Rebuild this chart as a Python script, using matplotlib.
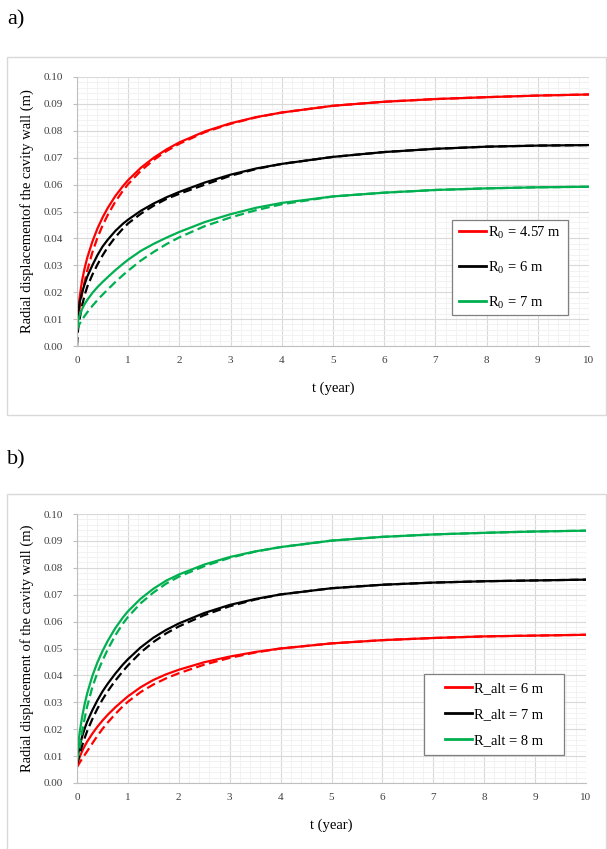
import numpy as np
import matplotlib
matplotlib.use("Agg")
import matplotlib.pyplot as plt
from matplotlib.patches import Rectangle
from matplotlib.ticker import MultipleLocator, FormatStrFormatter

plt.rcParams['font.family'] = ['Liberation Serif', 'DejaVu Serif']
plt.rcParams['mathtext.fontset'] = 'custom'
plt.rcParams['mathtext.rm'] = 'Liberation Serif'

# tiempos (años)
t = [0, 0.02, 0.05, 0.1, 0.15, 0.2, 0.3, 0.4, 0.5, 0.6, 0.75, 0.9, 1, 1.25, 1.5, 1.75, 2, 2.5,
     3, 3.5, 4, 5, 6, 7, 8, 9, 10]

# Panel a) - distintos R0
a_red = [0.008, 0.013, 0.018, 0.0245, 0.029, 0.0328, 0.0388, 0.0437, 0.0478, 0.0513, 0.0558,
         0.0595, 0.0617, 0.0663, 0.070, 0.0731, 0.0757, 0.0798, 0.0828, 0.0851, 0.0868, 0.0893,
         0.0908, 0.0918, 0.0925, 0.0931, 0.0935]
a_red_d = [0.008, 0.010, 0.014, 0.0195, 0.024, 0.028, 0.0348, 0.0403, 0.0448, 0.0487, 0.0537,
           0.0578, 0.0602, 0.0652, 0.0692, 0.0725, 0.0752, 0.0795, 0.0826, 0.085, 0.0868,
           0.0893, 0.0908, 0.0918, 0.0925, 0.0931, 0.0935]
a_blk = [0.009, 0.012, 0.016, 0.020, 0.023, 0.0258, 0.030, 0.0338, 0.037, 0.0395, 0.0428, 0.0455,
         0.047, 0.0503, 0.0530, 0.0553, 0.0573, 0.0608, 0.0637, 0.066, 0.0677, 0.0703, 0.0721,
         0.0733, 0.0741, 0.0745, 0.0747]
a_blk_d = [0.0, 0.006, 0.010, 0.015, 0.019, 0.022, 0.0265, 0.0303, 0.0337, 0.0367, 0.0405,
           0.0437, 0.0456, 0.0492, 0.0522, 0.0547, 0.0566, 0.060, 0.0633, 0.0658, 0.0677,
           0.0703, 0.0721, 0.0733, 0.0741, 0.0745, 0.0747]
a_grn = [0.007, 0.0093, 0.0113, 0.0138, 0.0156, 0.0171, 0.0197, 0.0219, 0.0238, 0.0256, 0.0282,
         0.0306, 0.0321, 0.0354, 0.038, 0.0403, 0.0424, 0.0461, 0.049, 0.0514, 0.0532, 0.0556,
         0.057, 0.058, 0.0586, 0.059, 0.0592]
a_grn_d = [0.006, 0.007, 0.0082, 0.0098, 0.0112, 0.0125, 0.0149, 0.0171, 0.0191, 0.021, 0.0238,
           0.0264, 0.028, 0.0318, 0.035, 0.0379, 0.0404, 0.0446, 0.0478, 0.0505, 0.0527,
           0.0556, 0.057, 0.058, 0.0586, 0.059, 0.0592]
a_labels = [r"R$_0$ = 4.57 m", r"R$_0$ = 6 m", r"R$_0$ = 7 m"]

# Panel b) - distintos R_alt
b_red = [0.0065, 0.0078, 0.0095, 0.0118, 0.0137, 0.0154, 0.0183, 0.0209, 0.0232, 0.0253,
         0.0281, 0.0306, 0.0322, 0.0356, 0.0383, 0.0404, 0.0421, 0.0449, 0.047, 0.0487, 0.050,
         0.0519, 0.0531, 0.0539, 0.0545, 0.0548, 0.0551]
b_red_d = [0.006, 0.0065, 0.0075, 0.009, 0.0104, 0.0118, 0.0147, 0.0175, 0.0201, 0.0224, 0.0256,
           0.0285, 0.0302, 0.0338, 0.0366, 0.0389, 0.0408, 0.044, 0.0465, 0.0485, 0.050,
           0.0519, 0.0531, 0.0539, 0.0545, 0.0548, 0.0551]
b_blk = [0.008, 0.0105, 0.0135, 0.0172, 0.0202, 0.0228, 0.027, 0.0307, 0.034, 0.0368, 0.0406,
         0.044, 0.046, 0.0504, 0.054, 0.0569, 0.0593, 0.0632, 0.0662, 0.0684, 0.0701, 0.0724,
         0.0737, 0.0745, 0.075, 0.0753, 0.0756]
b_blk_d = [0.007, 0.0085, 0.0105, 0.0138, 0.0167, 0.0193, 0.0237, 0.0276, 0.031, 0.034, 0.038,
           0.0415, 0.0437, 0.0485, 0.0524, 0.0556, 0.0582, 0.0624, 0.0657, 0.0682, 0.0701,
           0.0724, 0.0737, 0.0745, 0.075, 0.0753, 0.0756]
b_grn = [0.009, 0.0135, 0.0185, 0.0245, 0.0293, 0.0333, 0.0397, 0.0448, 0.049, 0.0527, 0.0575,
         0.0615, 0.0638, 0.0685, 0.0722, 0.0752, 0.0775, 0.0812, 0.084, 0.0861, 0.0877, 0.0901,
         0.0915, 0.0924, 0.093, 0.0935, 0.0938]
b_grn_d = [0.008, 0.010, 0.0135, 0.019, 0.024, 0.0285, 0.0355, 0.041, 0.0455, 0.0495, 0.0548,
           0.0592, 0.0617, 0.0668, 0.0708, 0.0741, 0.0767, 0.0806, 0.0837, 0.086, 0.0877,
           0.0901, 0.0915, 0.0924, 0.093, 0.0935, 0.0938]
b_labels = ["R_alt = 6 m", "R_alt = 7 m", "R_alt = 8 m"]

rojo = '#ff0000'
negro = '#000000'
verde = '#00b050'

fig = plt.figure(figsize=(6.07, 8.49), dpi=100)

# marcos exteriores
fig.patches.append(Rectangle((7/607, 1-415/849), 599/607, 358/849, transform=fig.transFigure,
                             fill=False, edgecolor='#d9d9d9', lw=1))
fig.patches.append(Rectangle((7/607, -0.02), 599/607, 1-494/849+0.02, transform=fig.transFigure,
                             fill=False, edgecolor='#d9d9d9', lw=1))

def panel(ax, series, labels, ylabel, caja, espacio):
    for (sol, das, c), lab in zip(series, labels):
        ax.plot(t, das, color=c, lw=1.6, ls=(0, (4, 2)))
        ax.plot(t, sol, color=c, lw=1.6, label=lab)
    ax.set_xlim(0, 10)
    ax.set_ylim(0, 0.10)
    ax.xaxis.set_major_locator(MultipleLocator(1))
    ax.xaxis.set_minor_locator(MultipleLocator(0.2))
    ax.yaxis.set_major_locator(MultipleLocator(0.01))
    ax.yaxis.set_minor_locator(MultipleLocator(0.002))
    ax.yaxis.set_major_formatter(FormatStrFormatter('%.2f'))
    ax.grid(which='major', color='#d9d9d9', lw=0.8)
    ax.grid(which='minor', color='#f0f0f0', lw=0.6)
    ax.set_axisbelow(True)
    for s in ['top', 'right']:
        ax.spines[s].set_visible(False)
    for s in ['left', 'bottom']:
        ax.spines[s].set_color('#bfbfbf')
    ax.tick_params(which='both', length=0, labelsize=8, colors='#404040', pad=7)
    ax.tick_params(axis='y', which='major', length=3, color='#bfbfbf')
    ax.set_xlabel("t (year)", fontsize=10.5, labelpad=12)
    ax.set_ylabel(ylabel, fontsize=10.5, labelpad=7)
    # cuadro de la leyenda
    x0, y0, x1, y1 = caja
    ax.add_patch(Rectangle((x0, y0), x1-x0, y1-y0, transform=ax.transAxes, facecolor='white',
                           edgecolor='#7f7f7f', lw=0.9, zorder=5))
    leg = ax.legend(loc='center', bbox_to_anchor=((x0+x1)/2, (y0+y1)/2), fontsize=10.5,
                    frameon=False, handlelength=1.85, handletextpad=0.15,
                    labelspacing=espacio, borderpad=0, borderaxespad=0)
    leg.set_zorder(6)
    for h in leg.get_lines():
        h.set_linewidth(2)

ax1 = fig.add_axes([77/607, 1-346/849, 512/607, 269/849])
panel(ax1, [(a_red, a_red_d, rojo), (a_blk, a_blk_d, negro), (a_grn, a_grn_d, verde)],
      a_labels, "Radial displacementof the cavity wall (m)", (0.732, 0.115, 0.959, 0.468), 1.25)

ax2 = fig.add_axes([77/607, 1-783/849, 509/607, 269/849])
panel(ax2, [(b_red, b_red_d, rojo), (b_blk, b_blk_d, negro), (b_grn, b_grn_d, verde)],
      b_labels, "Radial displacement of the cavity wall (m)", (0.682, 0.104, 0.957, 0.405), 0.85)

fig.text(7/607, 1-20/849, "a)", fontsize=16, va='center', ha='left')
fig.text(7/607, 1-460/849, "b)", fontsize=16, va='center', ha='left')

fig.savefig("out.png", dpi=100)
